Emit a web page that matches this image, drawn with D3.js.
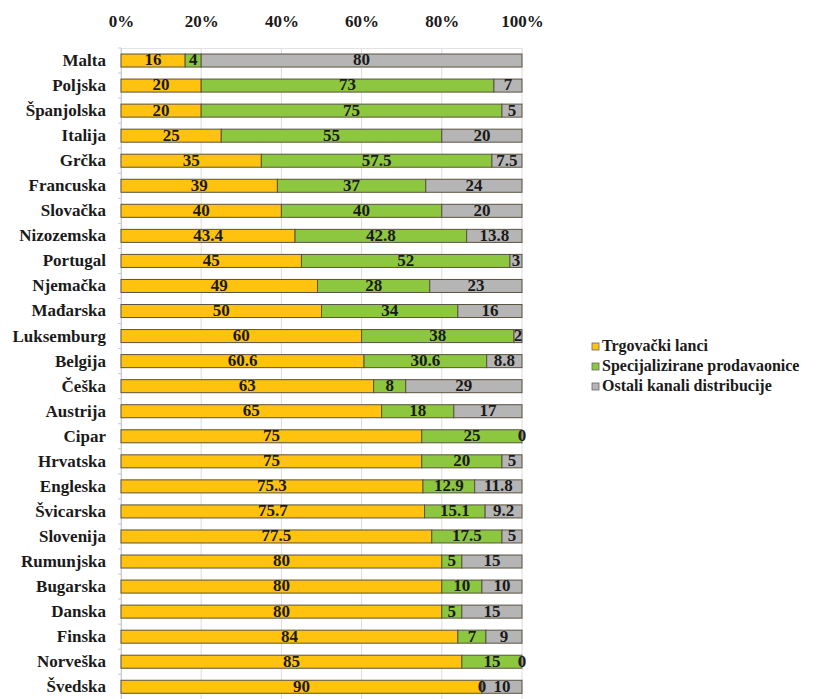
<!DOCTYPE html>
<html>
<head>
<meta charset="utf-8">
<script src="https://cdn.jsdelivr.net/npm/d3@7"></script>
<style>
  body { margin:0; background:#fff; }
</style>
</head>
<body>
<div id="chart"></div>
<script>
// udjeli kanala distribucije po zemljama (%)
const zemlje = ['Malta','Poljska','Španjolska','Italija','Grčka','Francuska','Slovačka',
  'Nizozemska','Portugal','Njemačka','Mađarska','Luksemburg','Belgija','Češka','Austrija',
  'Cipar','Hrvatska','Engleska','Švicarska','Slovenija','Rumunjska','Bugarska','Danska',
  'Finska','Norveška','Švedska'];
const trgovacki      = [16,20,20,25,35,39,40,43.4,45,49,50,60,60.6,63,65,75,75,75.3,75.7,77.5,80,80,80,84,85,90];
const specijalizirane = [4,73,75,55,57.5,37,40,42.8,52,28,34,38,30.6,8,18,25,20,12.9,15.1,17.5,5,10,5,7,15,0];
const ostali         = [80,7,5,20,7.5,24,20,13.8,3,23,16,2,8.8,29,17,0,5,11.8,9.2,5,15,10,15,9,0,10];
const serije  = ['Trgovački lanci','Specijalizirane prodavaonice','Ostali kanali distribucije'];
const xTicks  = [0,20,40,60,80,100];

const boje = ['#ffc20e','#8dc63f','#b5b5b5'];
const FONT = "'Liberation Serif', 'Times New Roman', serif";

const rows = zemlje.map((z,i) => ({ zemlja:z, a:trgovacki[i], b:specijalizirane[i], c:ostali[i] }));
const stack = d3.stack().keys(['a','b','c'])(rows);

const W = 819, H = 699;
const svg = d3.select('#chart').append('svg')
  .attr('width', W).attr('height', H)
  .style('font-family', FONT).attr('font-weight', 'bold');
svg.append('rect').attr('width', W).attr('height', H).attr('fill', '#fff');

const x = d3.scaleLinear().domain([0,100]).range([121,522]);
const y = d3.scaleBand().domain(zemlje).range([48, 48 + 26*25.05]).paddingInner(0.48).paddingOuter(0.24);

// mreža
svg.append('g')
  .selectAll('line').data(xTicks).enter().append('line')
    .attr('x1', d => x(d)).attr('x2', d => x(d))
    .attr('y1', 48).attr('y2', H)
    .attr('stroke', '#dcdcdc').attr('stroke-width', 1);
svg.append('line')
  .attr('x1', x(0)).attr('x2', x(100)).attr('y1', 48.5).attr('y2', 48.5)
  .attr('stroke', '#e2e2e2');

// gornja os
const xAx = svg.append('g').attr('transform', 'translate(0,48)')
  .call(d3.axisTop(x).tickValues(xTicks).tickSize(0).tickPadding(21).tickFormat(d => d + '%'));
xAx.attr('font-family', null).attr('font-size', 17);
xAx.select('.domain').remove();
xAx.selectAll('text').attr('fill', '#1a1a1a');

// lijeva os
const yAx = svg.append('g').attr('transform', `translate(${x(0)},0)`)
  .call(d3.axisLeft(y).tickSize(0).tickPadding(15));
yAx.attr('font-family', null).attr('font-size', 17);
yAx.select('.domain').attr('stroke', '#c4cad6');
yAx.selectAll('text').attr('fill', '#1a1a1a');
svg.append('g').selectAll('line').data(zemlje).enter().append('line')
  .attr('x1', x(0) - 3).attr('x2', x(0))
  .attr('y1', d => y(d) - y.step()*0.24).attr('y2', d => y(d) - y.step()*0.24)
  .attr('stroke', '#c4cad6');

// stupci
svg.append('g').selectAll('g').data(stack).enter().append('g')
    .attr('fill', (d,i) => boje[i])
  .selectAll('rect').data(d => d).enter().append('rect')
    .attr('x', d => x(d[0]))
    .attr('y', d => y(d.data.zemlja))
    .attr('width', d => x(d[1]) - x(d[0]))
    .attr('height', y.bandwidth())
    .attr('stroke', '#5a5340').attr('stroke-width', 1);

// vrijednosti (iznad svih stupaca)
svg.append('g').selectAll('g').data(stack).enter().append('g')
  .selectAll('text').data(d => d.map(v => ({ v, key:d.key }))).enter().append('text')
    .attr('x', d => (x(d.v[0]) + x(d.v[1])) / 2)
    .attr('y', d => y(d.v.data.zemlja) + y.bandwidth()/2 + 1)
    .attr('text-anchor', 'middle')
    .attr('dominant-baseline', 'middle')
    .attr('font-size', 17).attr('fill', '#1a1a1a')
    .text(d => d.v.data[d.key]);

// legenda
const leg = svg.append('g').attr('transform', 'translate(592,347)');
serije.forEach((s,i) => {
  const g = leg.append('g').attr('transform', `translate(0,${i*20})`);
  g.append('rect').attr('x', 0).attr('y', -4).attr('width', 7).attr('height', 7)
    .attr('fill', boje[i]).attr('stroke', '#666').attr('stroke-width', 0.8);
  g.append('text').attr('x', 10).attr('y', 0).attr('dominant-baseline', 'middle')
    .attr('font-size', 16).attr('fill', '#1a1a1a').text(s);
});
</script>
</body>
</html>
